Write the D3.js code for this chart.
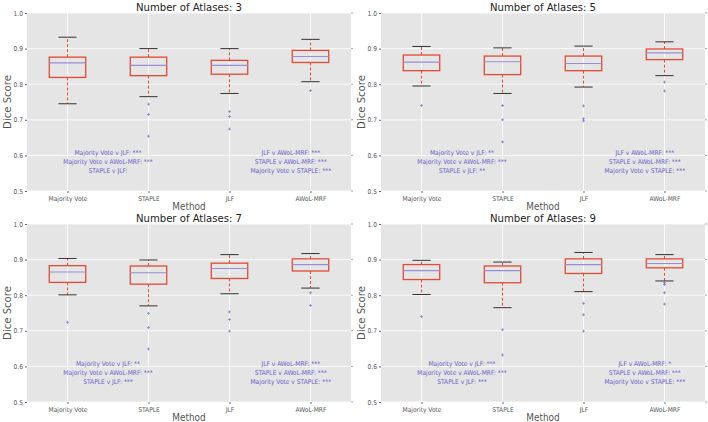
<!DOCTYPE html>
<html><head><meta charset="utf-8">
<script src="https://cdn.jsdelivr.net/npm/d3@7"></script>
<style>body{margin:0;background:#fff}svg{display:block}text{font-family:"DejaVu Sans Condensed","DejaVu Sans",sans-serif;font-stretch:condensed}</style>
</head><body><svg id="c" width="708" height="422"></svg>
<script>
const methods = ["Majority Vote", "STAPLE", "JLF", "AWoL-MRF"];
const atlasCounts = [3, 5, 7, 9];
const yTicks = [0.5, 0.6, 0.7, 0.8, 0.9, 1.0];
// per panel (3,5,7,9 atlases), per method
const whiskerLow = [[0.745,0.765,0.774,0.807],[0.795,0.774,0.792,0.824],[0.801,0.770,0.804,0.820],[0.802,0.765,0.810,0.840]];
const q1 =         [[0.819,0.824,0.828,0.861],[0.838,0.827,0.838,0.869],[0.836,0.831,0.847,0.868],[0.844,0.835,0.861,0.877]];
const median =     [[0.860,0.853,0.853,0.878],[0.862,0.863,0.858,0.888],[0.865,0.863,0.875,0.886],[0.869,0.869,0.886,0.889]];
const q3 =         [[0.876,0.876,0.867,0.895],[0.882,0.879,0.879,0.899],[0.883,0.882,0.890,0.902],[0.886,0.882,0.902,0.902]];
const whiskerHigh =[[0.932,0.900,0.900,0.926],[0.906,0.902,0.907,0.919],[0.903,0.899,0.914,0.917],[0.898,0.893,0.920,0.914]];
const outliers = [
  [[], [0.744,0.715,0.654], [0.723,0.709,0.674], [0.782]],
  [[0.740], [0.740,0.700,0.638], [0.739,0.703,0.697], [0.806,0.781]],
  [[0.724], [0.749,0.709,0.649], [0.753,0.732,0.699], [0.807,0.771]],
  [[0.740], [0.703,0.632], [0.777,0.745,0.699], [0.835,0.830,0.807,0.775]]
];
const leftNotes = [
  ["Majority Vote v JLF: ***","Majority Vote v AWoL-MRF: ***","STAPLE v JLF:"],
  ["Majority Vote v JLF: **","Majority Vote v AWoL-MRF: ***","STAPLE v JLF: **"],
  ["Majority Vote v JLF: **","Majority Vote v AWoL-MRF: ***","STAPLE v JLF: ***"],
  ["Majority Vote v JLF: ***","Majority Vote v AWoL-MRF: ***","STAPLE v JLF: ***"]
];
const rightNotes = [
  ["JLF v AWoL-MRF: ***","STAPLE v AWoL-MRF: ***","Majority Vote v STAPLE: ***"],
  ["JLF v AWoL-MRF: ***","STAPLE v AWoL-MRF: ***","Majority Vote v STAPLE: ***"],
  ["JLF v AWoL-MRF: ***","STAPLE v AWoL-MRF: ***","Majority Vote v STAPLE: ***"],
  ["JLF v AWoL-MRF: *","STAPLE v AWoL-MRF: ***","Majority Vote v STAPLE: ***"]
];
const noteY = [0.6, 0.575, 0.55];

const svg = d3.select("#c");
const pw = 324, ph = 178;
const origins = [[27,13],[381,13],[27,224],[381,224]];
const boxColor = "#E24A33", medColor = "#988ED5", capColor = "#333", flierColor = "#4a5bb0", noteColor = "#6a5fc8";
const fs = 1.1;

atlasCounts.forEach((n, p) => {
  const g = svg.append("g").attr("transform", `translate(${origins[p][0]},${origins[p][1]})`);
  const x = d3.scaleLinear().domain([0.5, 4.5]).range([0, pw]);
  const y = d3.scaleLinear().domain([0.5, 1.0]).range([ph, 0]);
  g.append("rect").attr("width", pw).attr("height", ph).attr("fill", "#E5E5E5");
  g.selectAll(".gy").data(yTicks).join("line").attr("x1",0).attr("x2",pw)
    .attr("y1",d=>y(d)).attr("y2",d=>y(d)).attr("stroke","#fff").attr("stroke-width",0.8);
  g.selectAll(".gx").data(methods).join("line").attr("y1",0).attr("y2",ph)
    .attr("x1",(d,i)=>x(i+1)).attr("x2",(d,i)=>x(i+1)).attr("stroke","#fff").attr("stroke-width",0.8);
  const ya = d3.axisLeft(y).tickValues(yTicks).tickFormat(d3.format(".1f")).tickSize(2).tickPadding(2);
  const yg = g.append("g").call(ya);
  yg.select(".domain").remove();
  yg.selectAll("line").attr("stroke","#666");
  yg.selectAll("text").attr("font-size",6*fs).attr("fill","#555");
  const xa = d3.axisBottom(x).tickValues([1,2,3,4]).tickFormat(d=>methods[d-1]).tickSize(2).tickPadding(3);
  const xg = g.append("g").attr("transform",`translate(0,${ph})`).call(xa);
  xg.select(".domain").remove();
  xg.selectAll("line").attr("stroke","#666");
  xg.selectAll("text").attr("font-size",6*fs).attr("fill","#555");
  g.selectAll(".rt").data(yTicks).join("line").attr("x1",pw).attr("x2",pw+2)
    .attr("y1",d=>y(d)).attr("y2",d=>y(d)).attr("stroke","#666").attr("stroke-width",0.6);
  const bw = 0.45 * (x(2)-x(1));
  methods.forEach((m, i) => {
    const cx = x(i+1);
    const lo = whiskerLow[p][i], a = q1[p][i], md = median[p][i], b = q3[p][i], hi = whiskerHigh[p][i];
    g.append("line").attr("x1",cx).attr("x2",cx).attr("y1",y(b)).attr("y2",y(hi))
      .attr("stroke",boxColor).attr("stroke-width",1).attr("stroke-dasharray","3,2");
    g.append("line").attr("x1",cx).attr("x2",cx).attr("y1",y(a)).attr("y2",y(lo))
      .attr("stroke",boxColor).attr("stroke-width",1).attr("stroke-dasharray","3,2");
    [lo, hi].forEach(v => g.append("line").attr("x1",cx-bw/4).attr("x2",cx+bw/4)
      .attr("y1",y(v)).attr("y2",y(v)).attr("stroke",capColor).attr("stroke-width",1));
    g.append("rect").attr("x",cx-bw/2).attr("width",bw).attr("y",y(b)).attr("height",y(a)-y(b))
      .attr("fill","none").attr("stroke",boxColor).attr("stroke-width",1.3);
    g.append("line").attr("x1",cx-bw/2).attr("x2",cx+bw/2).attr("y1",y(md)).attr("y2",y(md))
      .attr("stroke",medColor).attr("stroke-width",1.1);
    outliers[p][i].forEach(v => {
      g.append("path").attr("d",`M${cx-1.5},${y(v)}h3M${cx},${y(v)-1.5}v3`)
        .attr("stroke",flierColor).attr("stroke-width",0.7).attr("opacity",0.8);
    });
  });
  leftNotes[p].forEach((t,k)=> g.append("text").attr("x",x(1.5)).attr("y",y(noteY[k])).attr("text-anchor","middle")
    .attr("font-size",6*fs).attr("fill",noteColor).text(t));
  rightNotes[p].forEach((t,k)=> g.append("text").attr("x",x(3.757)).attr("y",y(noteY[k])).attr("text-anchor","middle")
    .attr("font-size",6*fs).attr("fill",noteColor).text(t));
  g.append("text").attr("x",pw/2).attr("y",-2.5).attr("text-anchor","middle").attr("font-size",10.2*fs).attr("fill","#222")
    .text("Number of Atlases: " + n);
  g.append("text").attr("x",pw/2).attr("y",ph+19).attr("text-anchor","middle").attr("font-size",9*fs).attr("fill","#555").text("Method");
  g.append("text").attr("transform",`translate(-16.5,${ph/2}) rotate(-90)`).attr("text-anchor","middle")
    .attr("font-size",10.2*fs).attr("fill","#555").text("Dice Score");
});
</script></body></html>
